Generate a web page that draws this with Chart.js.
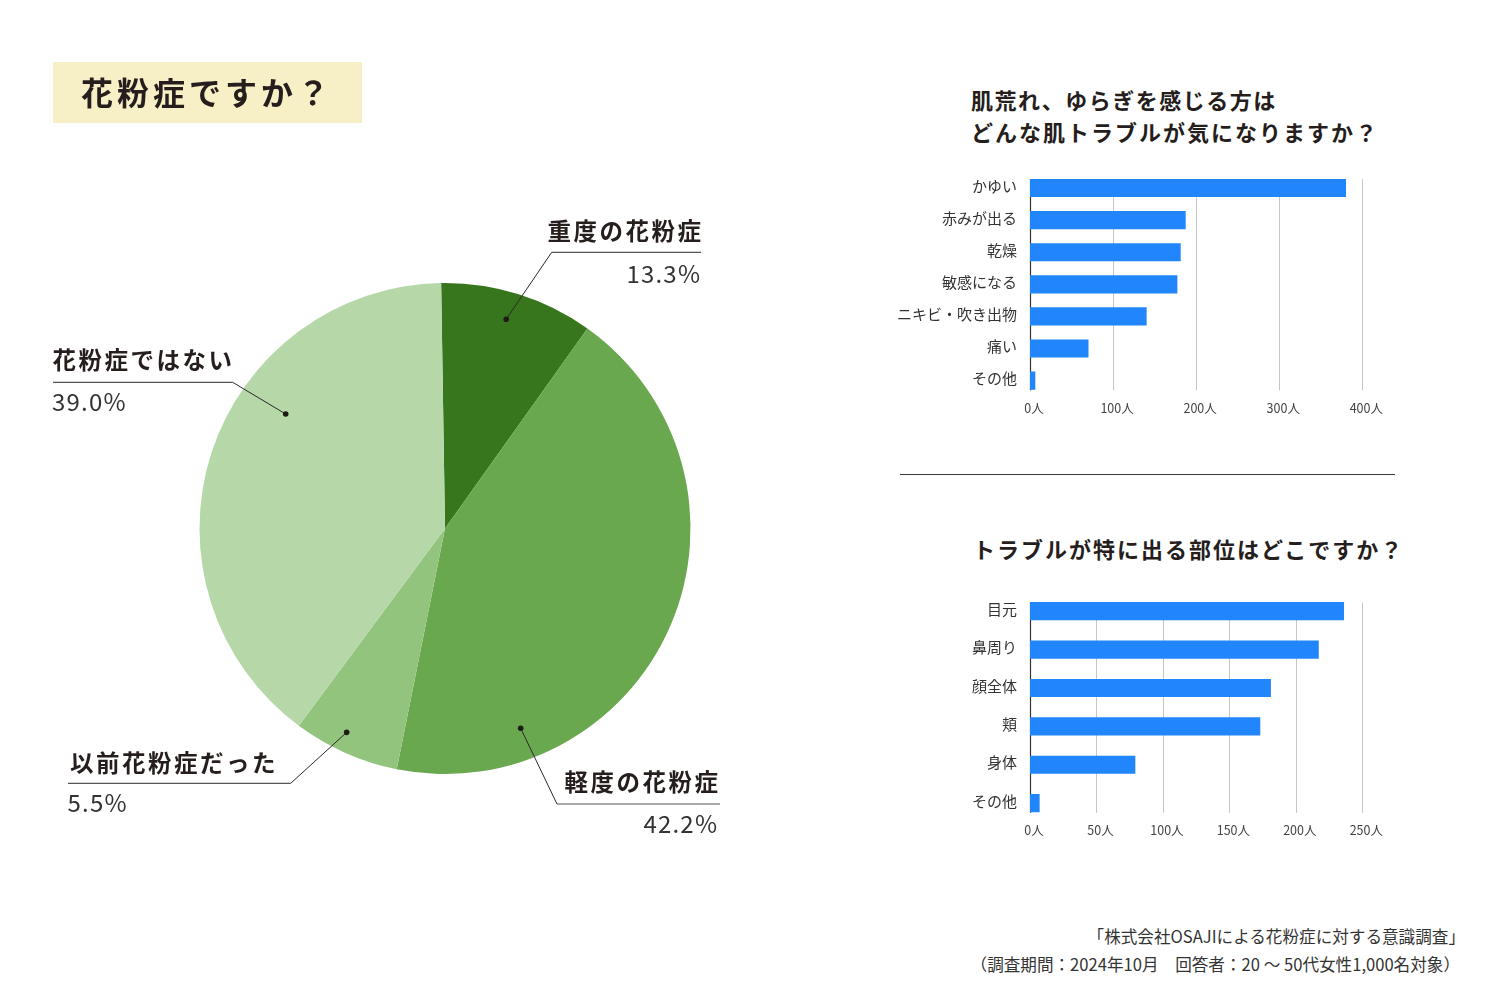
<!DOCTYPE html>
<html><head><meta charset="utf-8">
<script src="https://cdn.jsdelivr.net/npm/chart.js@4.4.1/dist/chart.umd.min.js"></script>
<style>
html,body{margin:0;padding:0;background:#fff;}
body{width:1500px;height:1000px;position:relative;overflow:hidden;font-family:"Noto Sans CJK JP","Noto Sans",sans-serif;color:#251e1c;}
.abs{position:absolute;white-space:nowrap;}
canvas{position:absolute;}
</style></head><body>
<div class="abs" style="left:53px;top:62px;width:309px;height:61px;background:#f7f0c6;"></div>
<div class="abs" style="left:900px;top:474px;width:495px;height:1px;background:#3a3a3a;"></div>
<canvas id="pie" width="880" height="1000" style="left:0;top:0;width:880px;height:1000px;"></canvas>
<canvas id="bar1" width="560" height="280" style="left:880px;top:150px;width:560px;height:280px;"></canvas>
<canvas id="bar2" width="560" height="280" style="left:880px;top:570px;width:560px;height:280px;"></canvas>
<script>
// ---------- data ----------
const mainTitle = '花粉症ですか？';
const pieCategories = ['重度の花粉症','軽度の花粉症','以前花粉症だった','花粉症ではない'];
const percentLabels = ['13.3%','42.2%','5.5%','39.0%'];
const sliceShares = [10.1, 43.3, 7.0, 39.6]; // slice sizes as drawn in the picture

const skinTitle = ['肌荒れ、ゆらぎを感じる方は','どんな肌トラブルが気になりますか？'];
const skinCategories = ['かゆい','赤みが出る','乾燥','敏感になる','ニキビ・吹き出物','痛い','その他'];
const skinValues = [380, 187, 181, 177, 140, 70, 6];
const skinTicks = [0, 100, 200, 300, 400];

const areaTitle = 'トラブルが特に出る部位はどこですか？';
const areaCategories = ['目元','鼻周り','顔全体','頬','身体','その他'];
const areaValues = [236, 217, 181, 173, 79, 7];
const areaTicks = [0, 50, 100, 150, 200, 250];

const tickUnit = '人';
const footnote = ['「株式会社OSAJIによる花粉症に対する意識調査」','（調査期間：2024年10月　回答者：20 ～ 50代女性1,000名対象）'];

// ---------- styles / layout ----------
const FONT = '"Noto Sans CJK JP", "Noto Sans", sans-serif';
const pieColors = ['#38761d','#6aa84f','#93c47d','#b6d7a8'];
const barColor = '#2185fc';
const pieLabelLayout = [
  {nx:701, ny:232, px:700, py:274.5, align:'right', ul:[551.7,701,252.3], ang:16.3, frac:0.888},
  {nx:718, ny:783, px:717, py:824, align:'right', ul:[557,720,804], ang:159.25, frac:0.870},
  {nx:70, ny:764.5, px:67.5, py:803, align:'left', ul:[68,290.7,783.3], ang:205.75, frac:0.922},
  {nx:52.5, ny:361, px:52, py:402, align:'left', ul:[53,232.7,382.3], ang:305.7, frac:0.799}
];

Chart.defaults.font.family = FONT;

function place(text, x, cy, size, weight, align, spacing, color){
  const d = document.createElement('div');
  d.className = 'abs';
  d.textContent = text;
  d.style.fontSize = size + 'px';
  d.style.fontWeight = weight;
  d.style.letterSpacing = spacing + 'px';
  d.style.lineHeight = size + 'px';
  d.style.color = color;
  d.style.top = (cy - 0.556 * size) + 'px';
  if (align === 'right') d.style.right = (1500 - x - spacing) + 'px';
  else d.style.left = x + 'px';
  document.body.appendChild(d);
}

// titles and texts
place(mainTitle, 81, 93, 32, 700, 'left', 4, '#251e1c');
place(skinTitle[0], 971, 100, 22, 700, 'left', 1.5, '#251e1c');
place(skinTitle[1], 971, 132, 22, 700, 'left', 2, '#251e1c');
place(areaTitle, 973, 549, 22, 700, 'left', 2, '#251e1c');
place(footnote[0], 1465, 937, 16.6, 400, 'right', 0, '#333');
place(footnote[1], 1460, 965, 16.6, 400, 'right', 0, '#333');

pieCategories.forEach((name, i) => {
  const L = pieLabelLayout[i];
  place(name, L.nx, L.ny, 23.5, 700, L.align, 2.5, '#251e1c');
  place(percentLabels[i], L.px, L.py, 24, 400, L.align, 1.2, '#333');
});

// ---------- pie ----------
const leaderPlugin = {
  id: 'leaders',
  afterDraw(chart){
    const ctx = chart.ctx;
    const arc = chart.getDatasetMeta(0).data[0];
    const cx = arc.x, cy = arc.y, r = arc.outerRadius;
    pieLabelLayout.forEach(L => {
      const a = L.ang * Math.PI / 180;
      const dx = cx + r * L.frac * Math.sin(a);
      const dy = cy - r * L.frac * Math.cos(a);
      const [x1, x2, y] = L.ul;
      const sx = L.align === 'right' ? x1 : x2;
      ctx.save();
      ctx.strokeStyle = '#555';
      ctx.lineWidth = 1.2;
      ctx.beginPath(); ctx.moveTo(x1, y); ctx.lineTo(x2, y); ctx.stroke();
      ctx.strokeStyle = '#2a2a2a';
      ctx.lineWidth = 1;
      ctx.beginPath(); ctx.moveTo(sx, y); ctx.lineTo(dx, dy); ctx.stroke();
      ctx.fillStyle = '#1e1a18';
      ctx.beginPath(); ctx.arc(dx, dy, 2.8, 0, Math.PI * 2); ctx.fill();
      ctx.restore();
    });
  }
};

new Chart(document.getElementById('pie'), {
  type: 'pie',
  data: { labels: pieCategories, datasets: [{ data: sliceShares, backgroundColor: pieColors, borderWidth: 0 }] },
  options: {
    responsive: false, animation: false, devicePixelRatio: 1,
    rotation: -0.9,
    layout: { padding: { left: 199.5, right: 189.5, top: 283, bottom: 226 } },
    plugins: { legend: { display: false }, tooltip: { enabled: false } }
  },
  plugins: [leaderPlugin]
});

// ---------- bars ----------
// grid lines and zero axis spanning only the bar band (as in the reference)
const bandGridPlugin = {
  id: 'bandGrid',
  beforeDatasetsDraw(chart){
    const ctx = chart.ctx, xs = chart.scales.x;
    const bars = chart.getDatasetMeta(0).data;
    const first = bars[0], last = bars[bars.length - 1];
    const top = first.y - first.height / 2;
    const bottom = last.y + last.height / 2 + 1;
    ctx.save();
    xs.ticks.forEach(t => {
      const x = Math.round(xs.getPixelForValue(t.value)) + 0.5;
      ctx.strokeStyle = t.value === 0 ? '#333' : '#c6c6c6';
      ctx.lineWidth = t.value === 0 ? 1.2 : 1;
      ctx.beginPath(); ctx.moveTo(x, top); ctx.lineTo(x, bottom); ctx.stroke();
    });
    ctx.restore();
  }
};

function barChart(id, cats, vals, ticks, padTop, axisH, tickPad){
  new Chart(document.getElementById(id), {
    type: 'bar',
    data: { labels: cats, datasets: [{ data: vals, backgroundColor: barColor, borderWidth: 0, barThickness: 17.5 }] },
    options: {
      indexAxis: 'y', responsive: false, animation: false, devicePixelRatio: 1,
      layout: { padding: { left: 0, right: 77.7, top: padTop, bottom: 0 } },
      plugins: { legend: { display: false }, tooltip: { enabled: false } },
      scales: {
        x: {
          min: ticks[0], max: ticks[ticks.length - 1],
          ticks: { stepSize: ticks[1] - ticks[0], callback: v => v + tickUnit, color: '#444', font: { size: 12.5 }, padding: tickPad, labelOffset: 4, maxRotation: 0 },
          grid: { display: false, drawTicks: false },
          border: { display: false },
          afterFit: s => { s.height = axisH; }
        },
        y: {
          ticks: { color: '#333', font: { size: 15 }, padding: 13, labelOffset: -2 },
          grid: { display: false, drawTicks: false },
          border: { display: false },
          afterFit: s => { s.width = 150; }
        }
      }
    },
    plugins: [bandGridPlugin]
  });
}
barChart('bar1', skinCategories, skinValues, skinTicks, 21, 33.4, 4);
barChart('bar2', areaCategories, areaValues, areaTicks, 20.2, 27.7, 0);
</script>
</body></html>
